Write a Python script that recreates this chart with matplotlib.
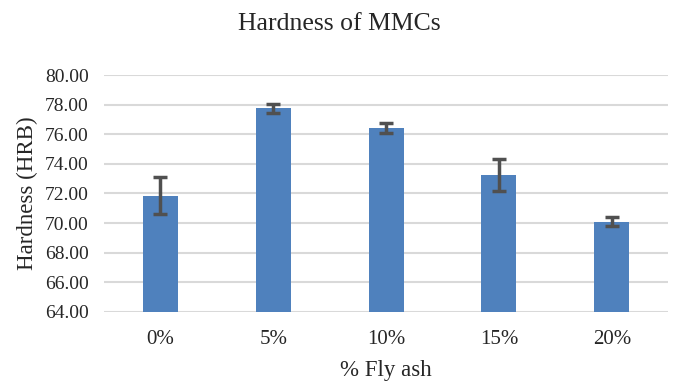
import matplotlib
matplotlib.use("Agg")
import matplotlib.pyplot as plt
import numpy as np

categories = ["0%", "5%", "10%", "15%", "20%"]
hardness = [71.85, 77.75, 76.42, 73.25, 70.08]
errors = [1.26, 0.28, 0.33, 1.05, 0.3]
yticks = [64, 66, 68, 70, 72, 74, 76, 78, 80]

plt.rcParams["font.family"] = ["Liberation Serif", "DejaVu Serif"]

fig = plt.figure(figsize=(6.75, 3.85), dpi=100)
ax = fig.add_axes([0.154, 0.19, 0.836, 0.615])

x = np.arange(len(categories))
ax.bar(x, hardness, width=0.31, color="#4F81BD", zorder=3,
       yerr=errors, error_kw=dict(ecolor="#505050", elinewidth=2.5,
                                  capsize=5, capthick=2.5, zorder=4))

ax.set_xlim(-0.5, len(categories) - 0.5)
ax.set_ylim(64, 80)
ax.set_yticks(yticks)
ax.set_yticklabels([f"{v:.2f}" for v in yticks])
ax.set_xticks(x)
ax.set_xticklabels(categories)
ax.tick_params(axis="both", length=0, colors="#262626")
ax.tick_params(axis="x", pad=13, labelsize=15)
ax.tick_params(axis="y", pad=11, labelsize=14)
ax.yaxis.grid(True, color="#D9D9D9", linewidth=1.5, zorder=0)
for s in ax.spines.values():
    s.set_visible(False)

# title is centred on the whole chart area, not on the plot area
fig.text(0.503, 0.922, "Hardness of MMCs", fontsize=18.5, color="#262626",
         ha="center", va="baseline")
ax.set_ylabel("Hardness (HRB)", fontsize=16.5, color="#262626", labelpad=5)
ax.set_xlabel("% Fly ash", fontsize=16.5, color="#262626", labelpad=8)

fig.savefig("out.png", dpi=100, facecolor="white")
